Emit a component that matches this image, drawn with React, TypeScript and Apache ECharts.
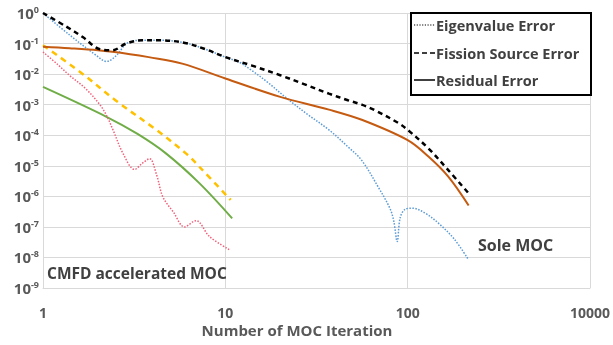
import React, { useEffect, useRef } from "react";
import * as echarts from "echarts";

// ---- Data ----
const xTickLabels: Record<number, string> = { 1: "1", 10: "10", 100: "100", 1000: "10000" };

// Sole MOC
const soleEigX = [1, 1.4, 1.96, 2.23, 2.53, 2.87, 3.3, 4.4, 6, 7.8, 10, 12, 14, 17, 21.5, 28, 37, 47, 56, 69, 80, 84, 87.6, 91, 97, 106, 125, 148, 180, 216];
const soleEigY = [1, 0.19, 0.041, 0.026, 0.041, 0.1, 0.126, 0.128, 0.105, 0.065, 0.036, 0.024, 0.013, 0.0055, 0.0017, 5e-4, 1.5e-4, 4.2e-5, 1.5e-5, 2e-6, 4e-7, 1.5e-7, 3.3e-8, 2e-7, 3.8e-7, 4.1e-7, 2.8e-7, 1.3e-7, 4e-8, 8.3e-9];

const soleFisX = [1, 1.35, 1.66, 2.05, 2.4, 2.85, 3.5, 4.4, 6, 7.8, 10, 14, 20, 27, 37, 47, 56, 66, 89, 100, 130, 167, 220];
const soleFisY = [1, 0.35, 0.16, 0.065, 0.06, 0.1, 0.128, 0.128, 0.105, 0.065, 0.036, 0.019, 0.0092, 0.0047, 0.0023, 0.0014, 0.001, 6.6e-4, 2.5e-4, 1.5e-4, 3.7e-5, 7.2e-6, 1.1e-6];

const soleResX = [1, 1.4, 2, 3, 3.8, 5.8, 10, 20, 37, 56, 100, 130, 167, 216];
const soleResY = [0.078, 0.07, 0.06, 0.045, 0.036, 0.022, 0.0072, 0.0018, 6.9e-4, 3.2e-4, 6.9e-5, 2e-5, 4.4e-6, 5e-7];

// CMFD accelerated MOC
const cmfdEigX = [1, 1.2, 1.4, 1.7, 2.05, 2.25, 2.42, 2.75, 3.18, 3.5, 3.84, 4.2, 4.54, 5.2, 5.97, 6.9, 8.2, 10.5];
const cmfdEigY = [0.053, 0.021, 9e-3, 3.5e-3, 1e-3, 4e-4, 1.5e-4, 2.5e-5, 7.6e-6, 1.2e-5, 1.7e-5, 5e-6, 9.7e-7, 3e-7, 1e-7, 1.6e-7, 4.8e-8, 1.8e-8];

const cmfdFisX = [1, 1.59, 2.58, 4.18, 6.1, 7.2, 10.7];
const cmfdFisY = [0.088, 0.012, 1.2e-3, 1.5e-4, 2.5e-5, 9.3e-6, 7.6e-7];

const cmfdResX = [1, 2.23, 3.3, 4.74, 7.2, 10.9];
const cmfdResY = [3.8e-3, 4e-4, 1.1e-4, 2.5e-5, 2.7e-6, 1.9e-7];

const legendItems = ["Eigenvalue Error", "Fission Source Error", "Residual Error"];
const annotations = { cmfd: "CMFD accelerated MOC", sole: "Sole MOC" };
const xAxisTitle = "Number of MOC Iteration";

const zip = (xs: number[], ys: number[]) => xs.map((x, i) => [x, ys[i]]);

const FONT = "'Open Sans'";
const GRAY = "#595959";

export default function App() {
  const ref = useRef<HTMLDivElement>(null);
  useEffect(() => {
    if (!ref.current) return;
    const chart = echarts.init(ref.current, null, { renderer: "svg" });
    const mk = (name: string, xs: number[], ys: number[], color: string, width: number, type: any, z = 2) => ({
      name,
      type: "line",
      data: zip(xs, ys),
      showSymbol: false,
      smooth: 0.35,
      z,
      lineStyle: { color, width, type },
    });
    const legendY = [25, 53, 80];
    const legendTypes = [[1.2, 1.5], [5, 3], "solid"];
    const graphic: any[] = [
      {
        type: "rect",
        shape: { x: 411, y: 13, width: 180, height: 82 },
        style: { fill: "#fff", stroke: "#000", lineWidth: 2 },
        z: 100,
      },
    ];
    legendItems.forEach((t, i) => {
      graphic.push({
        type: "line",
        shape: { x1: 414, y1: legendY[i], x2: 435, y2: legendY[i] },
        style: { stroke: "#000", lineWidth: i === 0 ? 1.2 : 1.5, lineDash: legendTypes[i] === "solid" ? null : legendTypes[i] },
        z: 101,
      });
      graphic.push({
        type: "text",
        x: 436,
        y: legendY[i],
        style: { text: t, fill: "#404040", font: `bold 14.5px ${FONT}`, verticalAlign: "middle", align: "left" },
        z: 101,
      });
    });
    graphic.push(
      {
        type: "text",
        x: 47,
        y: 273,
        style: { text: annotations.cmfd, fill: "#404040", font: `bold 15.5px ${FONT}`, verticalAlign: "middle" },
        z: 50,
      },
      {
        type: "text",
        x: 478,
        y: 245,
        style: { text: annotations.sole, fill: "#404040", font: `bold 16px ${FONT}`, verticalAlign: "middle" },
        z: 50,
      },
      {
        type: "text",
        x: 297,
        y: 330,
        style: { text: xAxisTitle, fill: GRAY, font: `bold 15px ${FONT}`, verticalAlign: "middle", align: "center", lineHeight: 15 },
      }
    );

    chart.setOption({
      animation: false,
      grid: { left: 43, top: 13, right: 22, bottom: 57, containLabel: false },
      xAxis: {
        type: "log",
        logBase: 10,
        min: 1,
        max: 1000,
        axisLine: { show: true, lineStyle: { color: "#d9d9d9" } },
        axisTick: { show: false },
        splitLine: { show: true, lineStyle: { color: "#d9d9d9", width: 1 } },
        axisLabel: {
          margin: 17,
          color: GRAY,
          fontFamily: FONT,
          fontWeight: "bold",
          fontSize: 14,
          lineHeight: 14,
          showMaxLabel: true,
          formatter: (v: number) => xTickLabels[Math.round(v)] ?? String(v),
        },
      },
      yAxis: {
        type: "log",
        logBase: 10,
        min: 1e-9,
        max: 1,
        axisLine: { show: true, lineStyle: { color: "#d9d9d9" } },
        axisTick: { show: false },
        splitLine: { show: true, lineStyle: { color: "#d9d9d9", width: 1 } },
        axisLabel: {
          margin: 4,
          formatter: (v: number) => `{b|10}{s|${Math.round(Math.log10(v))}}`,
          rich: {
            b: { fontFamily: FONT, fontWeight: "bold", fontSize: 15, color: GRAY, lineHeight: 16 },
            s: { fontFamily: FONT, fontWeight: "bold", fontSize: 9, color: GRAY, verticalAlign: "top", lineHeight: 10 },
          },
        },
      },
      series: [
        mk("cmfdRes", cmfdResX, cmfdResY, "#70ad47", 2, "solid"),
        mk("cmfdFis", cmfdFisX, cmfdFisY, "#ffc000", 2.5, [6, 5]),
        mk("cmfdEig", cmfdEigX, cmfdEigY, "#f0607a", 1.5, [1.5, 1.5]),
        mk("soleEig", soleEigX, soleEigY, "#5b9bd5", 1.5, [1.5, 1.5]),
        mk("soleRes", soleResX, soleResY, "#c55a11", 2, "solid"),
        mk("soleFis", soleFisX, soleFisY, "#000000", 2.5, [5, 4], 3),
      ],
      graphic,
    });
    return () => chart.dispose();
  }, []);
  return <div ref={ref} style={{ position: "fixed", left: 0, top: 0, width: 613, height: 345 }} />;
}
